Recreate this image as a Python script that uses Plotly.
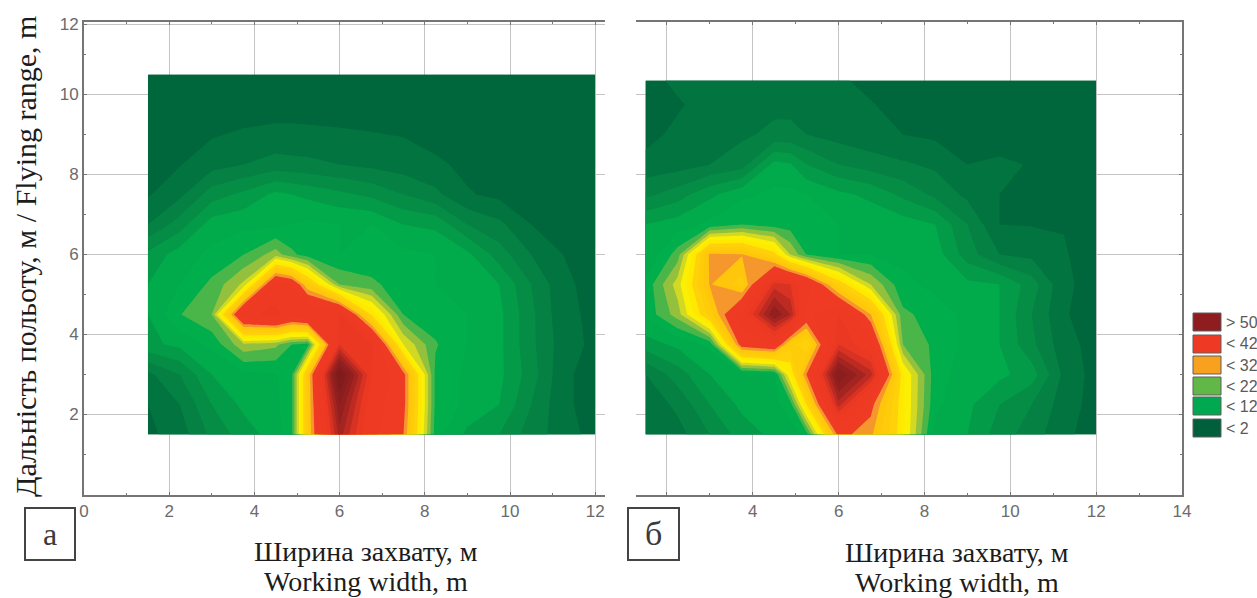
import plotly.graph_objects as go

W, H = 1257, 598

# Measurement positions (m)
x_nodes = [1.5, 2.25, 3, 3.75, 4.5, 4.875, 5.25, 6, 6.75, 7.5, 8.25, 9, 9.75, 10.5, 11.25, 12]
y_nodes_a = [1.5, 2.25, 3, 3.75, 4.5, 5.25, 6, 6.75, 7.5, 8.25, 9, 9.75, 10.5]
y_nodes_b = [1.5, 2.25, 3, 3.75, 4.5, 5.25, 6, 6.75, 7.5, 8.25, 9, 9.75, 10.35]

# Panel a, rows from the bottom upward
panel_a = [
    [1.5, 3, 6.5, 9, 11, 13.5, 28, 47, 37, 32, 13, 9.5, 8, 5, 3, 1.2],
    [2, 4, 8, 10.5, 11.5, 13.5, 28, 50, 38, 33, 13.5, 11.5, 10, 6, 2.5, 1],
    [3.5, 6, 10, 11.5, 11.8, 13.5, 28, 55, 40, 33, 13.5, 11.5, 10.5, 7, 2.5, 1],
    [9.5, 10.5, 12.5, 17.5, 16.5, 14, 13, 42, 41, 20, 14.2, 12, 10.5, 6.5, 3, 1.5],
    [10, 13.9, 16, 39, 41, 38, 40, 40, 24, 14, 13, 12, 10.5, 6.5, 2.6, 1.5],
    [10, 12, 14.5, 18.5, 38, 36, 28, 16, 14.5, 12.8, 12, 10.5, 10, 6, 2.5, 1.2],
    [8.5, 11, 12.5, 14, 17, 14.5, 13, 12, 12.5, 12.5, 12, 10.5, 7, 4, 2, 0.9],
    [4, 7, 11, 11.5, 11.5, 12, 12.5, 12, 12, 10, 9.5, 6, 4.5, 2, 1, 0.6],
    [1.8, 3.5, 7, 8.5, 10.5, 10, 9.5, 8.5, 7.5, 6, 4.5, 2.2, 1.5, 1, 0.7, 0.5],
    [1, 1.9, 3.2, 4, 4.8, 4.6, 4.5, 4, 3.5, 3, 2.4, 1.5, 1, 0.7, 0.5, 0.5],
    [0.6, 1, 1.8, 2.3, 2.6, 2.6, 2.5, 2.3, 2.1, 1.9, 1.2, 0.9, 0.6, 0.5, 0.5, 0.5],
    [0.5, 0.5, 0.7, 0.9, 1, 1, 1, 1, 1, 0.9, 0.7, 0.5, 0.5, 0.5, 0.5, 0.5],
    [0.5, 0.5, 0.5, 0.5, 0.5, 0.5, 0.5, 0.5, 0.5, 0.5, 0.5, 0.5, 0.5, 0.5, 0.5, 0.5],
]

# Panel b, rows from the bottom upward
panel_b = [
    [2, 3.2, 6, 9, 10.5, 11, 13, 33, 30.5, 22.5, 11, 10, 7, 5, 2.5, 1],
    [2.5, 4.5, 8, 10.5, 11.5, 13, 24, 45, 33, 22.5, 12.5, 10.5, 8, 6, 3, 1.2],
    [4, 7, 10, 11, 11.8, 22, 32, 52, 45, 22.5, 12.8, 11, 10.5, 9, 3.5, 1.2],
    [9, 10.5, 12.5, 34, 36, 27, 24, 42, 38, 16, 13.5, 11.5, 10, 6.5, 2.8, 1.2],
    [12.5, 17, 27, 38, 50, 46, 35, 40, 30, 14.5, 13, 11.5, 10, 6, 2.2, 1],
    [12.5, 19, 30.2, 27, 43, 42, 38, 26, 18, 12.5, 11.5, 10.5, 10, 7, 2.5, 1],
    [10, 15, 30.5, 30.2, 25, 18, 14, 12, 12, 11.5, 11, 7, 4, 3.5, 2.2, 0.9],
    [10, 11, 12.5, 14, 13, 13, 13, 12, 11.5, 11, 10, 6, 2, 1.9, 1.9, 0.7],
    [5.5, 7, 9.5, 11.5, 12.5, 12.5, 12, 10.5, 9.5, 7.5, 5.5, 3.5, 2, 1, 0.8, 0.5],
    [2.8, 3.1, 4, 5, 10.7, 10.2, 8, 6, 5, 4.3, 3.6, 2, 2.3, 1.9, 0.8, 0.5],
    [1.2, 2.6, 3.2, 3.7, 4.4, 4.4, 4, 3.2, 2.6, 2, 1.6, 1.4, 1.2, 1.5, 0.6, 0.5],
    [1.1, 1.7, 3, 3.3, 3.6, 3.6, 3.4, 2.8, 2.1, 1.4, 1, 0.7, 0.6, 0.5, 0.5, 0.5],
    [1, 2.6, 3, 3, 3, 3, 2.8, 2.2, 1.6, 1, 0.7, 0.6, 0.6, 0.5, 0.5, 0.5],
]

# Colour ramp: value, colour
ramp_values = [0, 2, 4, 6, 8, 10, 12, 14, 16, 18, 20, 22, 24, 26, 28, 30, 32, 34, 42, 44, 46, 48, 50, 56]
ramp_colours = ["#005f3a", "#006c3e", "#047a42", "#068544", "#059147", "#03a049", "#00ae4c", "#00ae4c",
                "#5fb848", "#9fc33a", "#dcdc1f", "#fff200", "#ffe800", "#ffd00a", "#ffcc0a", "#ffc80a",
                "#f59e2e", "#ef3b24", "#ee3a23", "#e03424", "#c42c22", "#ab2620", "#962020", "#7e1b1b"]

legend_labels = ["> 50", "< 42", "< 32", "< 22", "< 12", "< 2"]
legend_colours = ["#8f1d1f", "#ee3a25", "#f7a11e", "#62b846", "#00a94f", "#00603c"]
legend_tops = [313, 335, 356, 377, 397, 419]

x_ticks_a = [0, 2, 4, 6, 8, 10, 12]
x_ticks_b = [2, 4, 6, 8, 10, 12, 14]
x_labels_b = ["", "4", "6", "8", "10", "12", "14"]
y_ticks = [2, 4, 6, 8, 10]

x_title = ["Ширина захвату, м", "Working width, m"]
y_title = "Дальність польоту, м / Flying range, m"

AXIS = "#757575"
GRID = "#c4c4c4"
TICKFONT = dict(family="Liberation Sans, sans-serif", size=17, color="#6b6b6b")
SERIF = "Liberation Serif, serif"

PY_BOTTOM, PY_TOP = 494.5, 22
Y_TOP = (PY_BOTTOM - PY_TOP) / 40.0
scale = [[v / ramp_values[-1], c] for v, c in zip(ramp_values, ramp_colours)]


def px(x):
    return x / W


def py(y):
    return 1 - y / H


def contour(z, y_nodes, xa, ya):
    return go.Contour(
        x=x_nodes, y=y_nodes, z=z, xaxis=xa, yaxis=ya,
        zmin=ramp_values[0], zmax=ramp_values[-1], colorscale=scale, showscale=False,
        autocontour=False, contours=dict(start=0, end=54, size=2, coloring="fill", showlines=False),
        line=dict(width=0, smoothing=0), hoverinfo="skip",
    )


fig = go.Figure([contour(panel_a, y_nodes_a, "x", "y"), contour(panel_b, y_nodes_b, "x2", "y2")])

common_x = dict(showgrid=True, gridcolor=GRID, gridwidth=1, zeroline=False, showline=True, automargin=False,
                linecolor=AXIS, linewidth=2, mirror="ticks", ticks="inside", ticklen=3,
                tickcolor=AXIS, tickfont=TICKFONT, tickmode="array")
common_y = dict(showgrid=True, gridcolor=GRID, gridwidth=1, zeroline=False, showline=True, automargin=False,
                linecolor=AXIS, linewidth=2, ticks="inside", ticklen=3, tickcolor=AXIS,
                tickfont=TICKFONT, tickmode="array", range=[0, Y_TOP],
                minor=dict(tickvals=[1, 3, 5, 7, 9, 11], ticks="inside", ticklen=2, tickcolor=AXIS))

fig.update_layout(
    width=W, height=H, margin=dict(l=0, r=0, t=0, b=0), showlegend=False,
    paper_bgcolor="white", plot_bgcolor="white",
    xaxis=dict(common_x, domain=[px(84), px(605)], range=[0, (605 - 84) / 42.6], anchor="y",
               tickvals=x_ticks_a, ticktext=[str(t) for t in x_ticks_a],
               minor=dict(tickvals=[1, 3, 5, 7, 9, 11], ticks="inside", ticklen=2, tickcolor=AXIS)),
    yaxis=dict(common_y, domain=[py(PY_BOTTOM), py(PY_TOP)], anchor="x",
               tickvals=y_ticks + [Y_TOP - 0.05], ticktext=[str(t) for t in y_ticks] + ["12"]),
    xaxis2=dict(common_x, domain=[px(636), px(1182)], range=[(636 - 581) / 43, 14], anchor="y2",
                tickvals=x_ticks_b, ticktext=x_labels_b,
                minor=dict(tickvals=[3, 5, 7, 9, 11, 13], ticks="inside", ticklen=2, tickcolor=AXIS)),
    yaxis2=dict(common_y, domain=[py(PY_BOTTOM), py(PY_TOP)], anchor="x2", side="right",
                tickvals=y_ticks, ticktext=["" for _ in y_ticks]),
)

shapes, notes = [], []


def text(x, y, s, size, family=SERIF, color="#1c1c1c", angle=0, xanchor="center"):
    notes.append(dict(x=px(x), y=py(y), xref="paper", yref="paper", text=s, showarrow=False,
                      font=dict(family=family, size=size, color=color), textangle=angle,
                      xanchor=xanchor, yanchor="middle"))


def rect(x0, y0, x1, y1, line, fill="white", width=2):
    shapes.append(dict(type="rect", xref="paper", yref="paper", x0=px(x0), x1=px(x1), y0=py(y0), y1=py(y1),
                       line=dict(color=line, width=width), fillcolor=fill, layer="above"))


text(25, 257, y_title, 30, angle=-90)
text(366, 551, x_title[0], 28)
text(366, 581.5, x_title[1], 28)
text(957, 552, x_title[0], 28)
text(957, 582.5, x_title[1], 28)

rect(25, 508, 75, 560, "#444444")
rect(628, 508, 679, 560, "#444444")
text(50, 534, "а", 32, color="#3a3a3a")
text(653.5, 533, "б", 34, color="#3a3a3a")

for lab, col, top in zip(legend_labels, legend_colours, legend_tops):
    rect(1193, top, 1221, top + 18, "#5f5f5f", fill=col, width=1)
    text(1224, top + 9, lab, 16, family=TICKFONT["family"], color="#5a5a5a", xanchor="left")

fig.update_layout(shapes=shapes, annotations=notes)
fig.write_html("out.html", config=dict(displayModeBar=False),
               post_script="document.body.style.margin='0';document.body.style.overflow='hidden';")
